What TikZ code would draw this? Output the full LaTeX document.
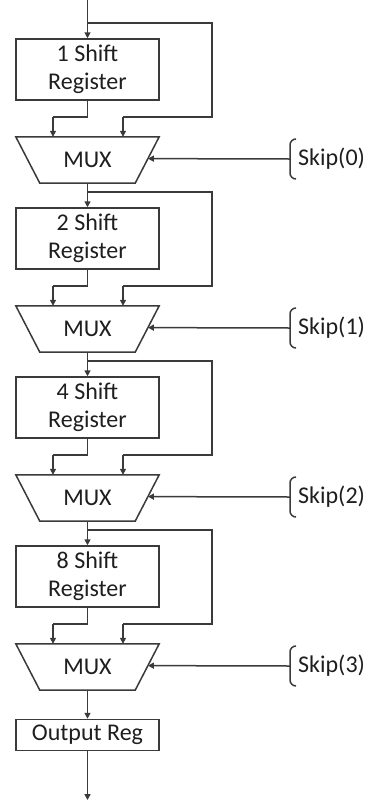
\documentclass[tikz,border=0pt]{standalone}
\usepackage{fontspec}
\setmainfont{Carlito}
\usetikzlibrary{arrows.meta,calc}
\definecolor{ln}{HTML}{3A3A3A}
\definecolor{tx}{HTML}{1E1E1E}
\tikzset{
  x=1pt,y=-1pt,
  wire/.style={draw=ln,line width=1.5pt},
  arr/.style={wire,-{Triangle[length=6pt,width=6pt]}},
  regbox/.style={draw=ln,line width=1.5pt,minimum width=143pt,minimum height=61pt,inner sep=0pt,align=center,text=tx,font=\fontsize{24}{28}\selectfont},
  outbox/.style={regbox,minimum height=31pt},
  muxnode/.style={minimum width=143pt,minimum height=46pt,inner sep=0pt,text=tx,font=\fontsize{24}{28}\selectfont},
  skiplbl/.style={anchor=west,inner sep=0pt,text=tx,font=\fontsize{24}{28}\selectfont},
}
\begin{document}
\begin{tikzpicture}
\useasboundingbox (0,0) rectangle (370,801);
\coordinate (in) at (87.5,0);
\foreach \k/\n/\lab in {0/1/1 Shift,1/2/2 Shift,2/3/4 Shift,3/4/8 Shift}{
  \pgfmathsetmacro{\o}{169*\k}
  \coordinate (b\n) at (87.5,23+\o);
  \node[regbox] (r\n) at (87.5,69.5+\o) {\lab\\Register};
  \node[muxnode] (m\n) at (87.5,160+\o) {};
  \draw[wire,fill=white] (m\n.north west) -- (m\n.north east) -- ([xshift=-24pt]m\n.south east) -- ([xshift=24pt]m\n.south west) -- cycle;
  \node[muxnode] at (m\n) {MUX};
  \coordinate (fr\n) at (212,23+\o);
  \coordinate (fc\n) at (212,117+\o);
  \coordinate (rin\n) at (123,117+\o);
  \coordinate (lin\n) at (53,117+\o);
  \coordinate (rc\n) at (87.5,117+\o);
  \draw[wire] (b\n) -- (fr\n) -- (fc\n) -- (rin\n);
  \draw[arr] (rin\n) -- (rin\n |- m\n.north);
  \draw[wire] (r\n.south) -- (rc\n) -- (lin\n);
  \draw[arr] (lin\n) -- (lin\n |- m\n.north);
  \coordinate (sel\n) at ($(m\n.north east)!0.47!([xshift=-24pt]m\n.south east)$);
  \pgfmathtruncatemacro{\sk}{\k}
  \node[skiplbl] (s\n) at (298,159+\o) {Skip(\sk)};
  \coordinate (sb\n) at ([xshift=-4pt]s\n.west);
  \draw[wire] ([xshift=2pt,yshift=20pt]sb\n) to[out=180,in=90] ([xshift=-4pt,yshift=14pt]sb\n) -- ([xshift=-4pt,yshift=-14pt]sb\n) to[out=-90,in=180] ([xshift=2pt,yshift=-20pt]sb\n);
  \draw[arr] ([xshift=-4pt]sb\n) -- (sel\n);
}
\draw[arr] (in) -- (r1.north);
\draw[arr] (m1.south) -- (r2.north);
\draw[arr] (m2.south) -- (r3.north);
\draw[arr] (m3.south) -- (r4.north);
\node[outbox] (out) at (87.5,735) {Output Reg};
\coordinate (end) at (87.5,800);
\draw[arr] (m4.south) -- (out.north);
\draw[arr] (out.south) -- (end);
\end{tikzpicture}
\end{document}
